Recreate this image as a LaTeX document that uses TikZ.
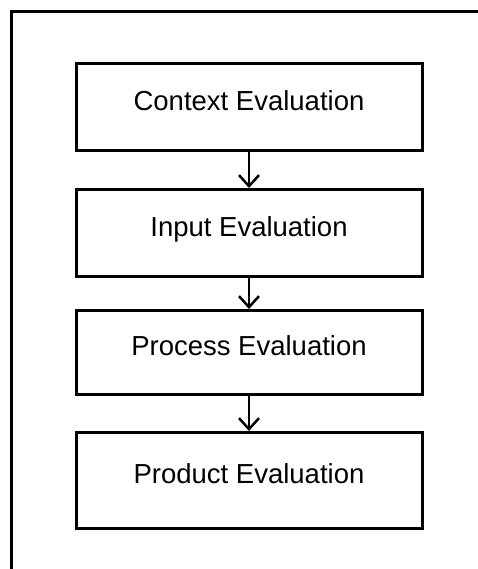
\documentclass[tikz,border=0pt]{standalone}
\usepackage{fontspec}
\setmainfont{Liberation Sans}
\usetikzlibrary{arrows.meta}

\begin{document}
\begin{tikzpicture}[x=1pt, y=-1pt, line width=3pt,
	stage/.style={draw, rectangle, inner sep=0pt, minimum width=346pt,
		text height=20pt, text depth=14pt, font=\fontsize{27.5}{33}\selectfont},
	flow/.style={-{Straight Barb[length=11pt, width=20pt]}, line width=2.5pt}]
	\useasboundingbox (0,0) rectangle (478,569);
	% frame, open at the right and the bottom
	\draw (11.5,569) -- (11.5,11.5) -- (478,11.5);
	\node (ctx) at (249, 107.5)	[stage, minimum height=87pt]	{Context Evaluation};
	\node (inp) at (249, 233)	[stage, minimum height=87pt]	{Input Evaluation};
	\node (prc) at (249, 352.5)	[stage, minimum height=84pt]	{Process Evaluation};
	\node (prd) at (249, 480.5)	[stage, minimum height=96pt]	{Product Evaluation};
	\draw[flow] (ctx) -- (inp);
	\draw[flow] (inp) -- (prc);
	\draw[flow] (prc) -- (prd);
\end{tikzpicture}
\end{document}
